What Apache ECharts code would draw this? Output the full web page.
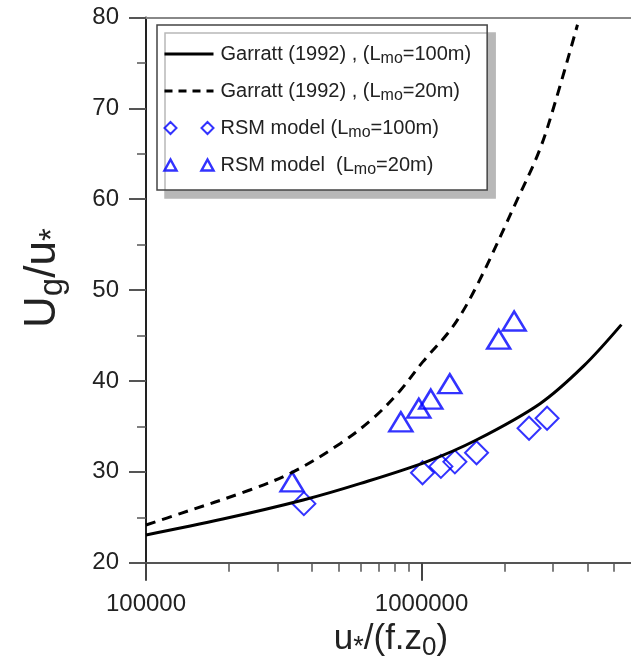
<!DOCTYPE html>
<html>
<head>
<meta charset="utf-8">
<script src="https://cdn.jsdelivr.net/npm/echarts@6/dist/echarts.min.js"></script>
<style>
html,body{margin:0;padding:0;background:#fff;}
#chart{width:631px;height:665px;}
</style>
</head>
<body>
<div id="chart"></div>
<script>
// Garratt (1992), L_mo = 100 m (solid)
const garratt100X = [100000, 190000, 372000, 597000, 1040000, 1580000, 2690000, 3860000, 5310000];
const garratt100Y = [23.05, 24.8, 26.9, 28.7, 31.1, 33.5, 37.5, 41.6, 46.2];
// Garratt (1992), L_mo = 20 m (dashed)
const garratt20X = [100000, 133000, 238000, 342000, 506000, 667000, 834000, 1010000, 1300000, 1600000, 2220000, 2680000, 3070000, 3680000];
const garratt20Y = [24.15, 25.4, 28.0, 30.0, 33.1, 35.9, 38.9, 42.1, 46.0, 50.7, 59.9, 65.4, 70.9, 79.2];
// RSM model, L_mo = 100 m (diamonds)
const rsm100X = [374000, 1008000, 1175000, 1321000, 1583000, 2455000, 2854000];
const rsm100Y = [26.5, 29.9, 30.6, 31.1, 32.1, 34.8, 35.9];
// RSM model, L_mo = 20 m (triangles)
const rsm20X = [339000, 841000, 977000, 1080000, 1266000, 1905000, 2167000];
const rsm20Y = [28.9, 35.5, 37.0, 38.0, 39.7, 44.6, 46.6];
// axis ticks
const xMajorTicks = [100000, 1000000];
const xMinorTicks = [200000, 300000, 400000, 500000, 600000, 700000, 800000, 900000, 2000000, 3000000, 4000000, 5000000];
const yTicks = [20, 30, 40, 50, 60, 70, 80];

const names = [
  'Garratt (1992) , (L{s|mo}=100m)',
  'Garratt (1992) , (L{s|mo}=20m)',
  'RSM model (L{s|mo}=100m)',
  'RSM model  (L{s|mo}=20m)'
];
const blue = '#0000ff';
const zip = (a, b) => a.map((v, i) => [v, b[i]]);

const chart = echarts.init(document.getElementById('chart'), null, {renderer: 'canvas'});
const font = 'Liberation Sans, Arial, sans-serif';
chart.setOption({
  animation: false,
  backgroundColor: '#fff',
  textStyle: {fontFamily: font},
  grid: {left: 146, top: 17.5, right: -5, bottom: 102.3, containLabel: false, outerBoundsMode: 'none'},
  xAxis: [
    {
      type: 'log', logBase: 10, min: 100000, max: 6000000,
      position: 'bottom',
      name: 'u{s|*}/(f.z{z|0})',
      nameLocation: 'middle', nameGap: 40,
      nameTextStyle: {fontSize: 35, color: '#222', fontFamily: font,
        rich: {s: {fontSize: 27, padding: [16, 0, 0, 0], fontFamily: font, color: '#222'},
               z: {fontSize: 26, padding: [18, 0, 0, 0], fontFamily: font, color: '#222'}}},
      axisLine: {show: true, lineStyle: {color: '#555', width: 2}},
      axisTick: {show: true, inside: false, length: 18, customValues: xMajorTicks, lineStyle: {color: '#444', width: 2}},
      axisLabel: {show: true, customValues: xMajorTicks, margin: 30, fontSize: 24, color: '#222', fontFamily: font,
        formatter: v => String(Math.round(v))},
      splitLine: {show: false},
      minorTick: {show: false}
    },
    {
      type: 'log', logBase: 10, min: 100000, max: 6000000,
      position: 'bottom', gridIndex: 0,
      axisLine: {show: false},
      axisTick: {show: true, inside: false, length: 9, customValues: xMinorTicks, lineStyle: {color: '#555', width: 1.5}},
      axisLabel: {show: false},
      splitLine: {show: false}
    },
    {
      type: 'log', logBase: 10, min: 100000, max: 6000000,
      position: 'top', gridIndex: 0,
      axisLine: {show: true, lineStyle: {color: '#888', width: 2}},
      axisTick: {show: false}, axisLabel: {show: false}, splitLine: {show: false}
    }
  ],
  yAxis: {
    type: 'value', min: 20, max: 80, interval: 10,
    name: 'U{g|g}/u{s|*}',
    nameLocation: 'middle', nameGap: 77, nameRotate: 90,
    nameTextStyle: {fontSize: 44, color: '#222', fontFamily: font, padding: [0, 0, 0, 24],
      rich: {g: {fontSize: 33, padding: [20, 0, 0, 0], fontFamily: font, color: '#222'},
             s: {fontSize: 33, padding: [20, 0, 0, 0], fontFamily: font, color: '#222'}}},
    axisLine: {show: true, lineStyle: {color: '#222', width: 2}},
    axisTick: {show: true, inside: false, length: 17, lineStyle: {color: '#555', width: 2}},
    minorTick: {show: true, splitNumber: 2, length: 9, lineStyle: {color: '#555', width: 1.5}},
    axisLabel: {margin: 27, fontSize: 24, color: '#222', fontFamily: font,
      customValues: yTicks},
    splitLine: {show: false},
    minorSplitLine: {show: false}
  },
  legend: {
    orient: 'vertical', left: 157, top: 25,
    padding: [19, 16, 12, 6],
    itemGap: 14, itemWidth: 49, itemHeight: 12,
    backgroundColor: '#fff', borderColor: '#444', borderWidth: 1.5,
    shadowColor: '#b8b8b8', shadowBlur: 0, shadowOffsetX: 8, shadowOffsetY: 8,
    textStyle: {fontSize: 20, color: '#222', fontFamily: font, padding: [0, 0, 0, 2],
      rich: {s: {fontSize: 16, padding: [10, 0, 0, 0], color: '#222', fontFamily: font}}},
    selectedMode: false,
    data: [
      {name: names[0], itemStyle: {color: 'rgba(0,0,0,0)', borderWidth: 0, opacity: 0},
        lineStyle: {width: 3, color: '#000'}},
      {name: names[1], itemStyle: {color: 'rgba(0,0,0,0)', borderWidth: 0, opacity: 0},
        lineStyle: {width: 3, color: '#000', type: [8, 6]}},
      {name: names[2], icon: 'path://M6,0 L12,6 L6,12 L0,6 Z M43,0 L49,6 L43,12 L37,6 Z',
        itemStyle: {color: 'rgba(0,0,0,0)', borderColor: blue, borderWidth: 2}},
      {name: names[3], icon: 'path://M6,0 L12,11 L0,11 Z M43,0 L49,11 L37,11 Z',
        itemStyle: {color: 'rgba(0,0,0,0)', borderColor: blue, borderWidth: 2.5}}
    ]
  },
  series: [
    {
      name: names[0], type: 'line', xAxisIndex: 0, data: zip(garratt100X, garratt100Y),
      symbol: 'none', smooth: 0.35,
      lineStyle: {color: '#000', width: 3, type: 'solid'}, itemStyle: {color: '#000'}
    },
    {
      name: names[1], type: 'line', xAxisIndex: 0, data: zip(garratt20X, garratt20Y),
      symbol: 'none', smooth: 0.35,
      lineStyle: {color: '#000', width: 3, type: [10, 7]}, itemStyle: {color: '#000'}
    },
    {
      name: names[2], type: 'scatter', xAxisIndex: 0, data: zip(rsm100X, rsm100Y),
      symbol: 'diamond', symbolSize: [23, 23],
      itemStyle: {color: 'rgba(0,0,0,0)', borderColor: blue, borderWidth: 2}
    },
    {
      name: names[3], type: 'scatter', xAxisIndex: 0, data: zip(rsm20X, rsm20Y),
      symbol: 'triangle', symbolSize: [23, 19],
      itemStyle: {color: 'rgba(0,0,0,0)', borderColor: blue, borderWidth: 2.5}
    }
  ]
});
</script>
</body>
</html>
